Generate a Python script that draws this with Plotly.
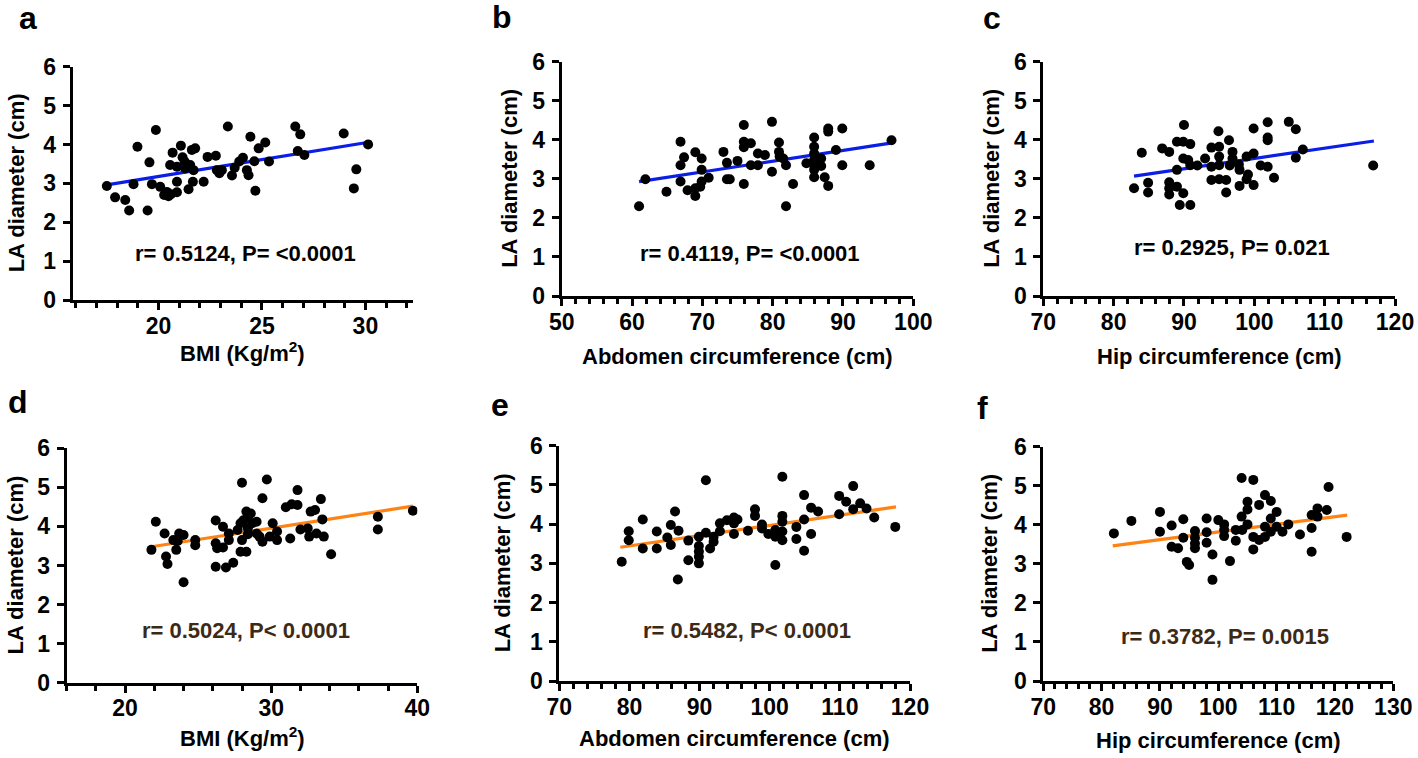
import plotly.graph_objects as go

W, H = 1418, 758

# ---------------- data ----------------
# a: BMI vs LA diameter (blue group)
a_x = [17.50, 17.90, 18.39, 18.58, 18.79, 18.98, 19.47, 19.56, 19.68, 19.87, 20.08, 20.27, 20.40, 20.48,
       20.60, 20.89, 20.89, 20.68, 21.08, 20.56, 20.89, 21.16, 21.26, 21.29, 21.53, 21.61, 21.77, 21.69,
       21.66, 21.45, 22.18, 22.37, 22.77, 22.82, 22.94, 23.06, 23.35, 23.55, 23.68, 23.90, 24.08, 24.27,
       24.35, 24.44, 24.63, 24.68, 24.84, 25.16, 25.34, 26.61, 26.85, 26.73, 27.05, 28.95, 29.56, 29.44, 30.13]
a_y = [2.93, 2.64, 2.57, 2.30, 2.98, 3.94, 2.30, 3.54, 2.98, 4.37, 2.91, 2.70, 2.78, 2.67,
       2.72, 2.77, 3.04, 3.79, 3.97, 3.47, 3.43, 3.67, 3.56, 3.38, 3.47, 3.86, 3.90, 3.34,
       3.04, 2.85, 3.04, 3.68, 3.71, 3.34, 3.26, 3.34, 4.46, 3.20, 3.40, 3.56, 3.66, 3.34,
       3.21, 4.20, 3.57, 2.81, 3.90, 4.05, 3.56, 4.46, 4.26, 3.83, 3.73, 4.28, 3.36, 2.87, 4.00]
a_fit_x = [17.5, 30.3]
a_fit_y = [2.96, 4.07]
a_stat = "r= 0.5124, P= <0.0001"

# b: Abdomen circumference vs LA diameter (blue group)
b_x = [61.0, 61.9, 64.9, 66.9, 67.4, 66.9, 66.9, 67.9, 69.0, 69.9, 69.9, 69.0, 69.0, 69.7, 69.9, 70.9,
       73.0, 73.5, 73.5, 73.9, 75.0, 75.9, 75.9, 75.9, 76.9, 75.9, 76.9, 77.9, 77.9, 78.9, 79.9, 79.9,
       80.9, 80.9, 81.0, 81.5, 81.9, 81.9, 82.9, 84.8, 85.9, 85.9, 85.9, 85.9, 85.9, 85.9, 85.9, 86.9,
       86.9, 87.4, 87.9, 87.9, 87.9, 89.0, 89.9, 89.9, 93.8, 96.9]
b_y = [2.30, 2.99, 2.67, 3.95, 3.55, 3.35, 2.93, 2.71, 3.68, 3.52, 3.23, 2.76, 2.56, 2.80, 2.93, 3.03,
       3.69, 3.41, 2.99, 2.99, 3.46, 4.38, 3.95, 3.81, 3.91, 2.87, 3.35, 3.65, 3.35, 3.61, 4.46, 3.18,
       3.93, 3.69, 3.57, 3.52, 3.35, 2.30, 2.87, 3.40, 4.06, 3.82, 3.65, 3.48, 3.35, 3.23, 3.04, 3.52,
       3.33, 3.04, 2.82, 4.29, 4.21, 3.74, 4.29, 3.35, 3.35, 3.99]
b_fit_x = [61.0, 97.0]
b_fit_y = [2.93, 3.92]
b_stat = "r= 0.4119, P= <0.0001"

# c: Hip circumference vs LA diameter (blue group)
c_x = [82.9, 84.0, 84.9, 84.9, 86.9, 87.9, 87.9, 87.9, 87.9, 89.0, 89.0, 89.0, 90.0, 89.9, 89.9, 89.9,
       89.4, 90.9, 90.9, 90.6, 90.9, 91.9, 93.0, 93.9, 93.9, 93.9, 94.9, 95.0, 95.0, 95.0, 95.0, 96.0,
       96.0, 96.4, 96.9, 96.9, 96.5, 97.8, 97.9, 97.9, 98.9, 99.1, 98.9, 99.9, 99.9, 99.9, 100.9, 101.9,
       101.9, 101.9, 101.9, 102.8, 104.9, 105.9, 105.9, 106.9, 116.9]
c_y = [2.76, 3.67, 2.90, 2.65, 3.78, 3.69, 2.91, 2.76, 2.60, 2.80, 3.23, 3.95, 4.38, 3.95, 3.52, 2.63,
       2.33, 2.33, 3.89, 3.48, 3.35, 3.34, 3.52, 3.80, 3.31, 2.97, 4.22, 3.82, 3.57, 3.35, 2.99, 2.97,
       2.65, 3.99, 3.69, 3.52, 3.34, 3.37, 3.23, 2.82, 3.57, 3.11, 2.99, 3.65, 2.84, 4.29, 3.34, 3.31,
       4.45, 4.06, 3.99, 3.03, 4.46, 4.27, 3.54, 3.75, 3.34]
c_fit_x = [82.9, 117.0]
c_fit_y = [3.07, 3.97]
c_stat = "r= 0.2925, P= 0.021"

# d: BMI vs LA diameter (orange group)
d_x = [21.8, 22.1, 22.7, 22.8, 22.9, 23.3, 23.5, 23.6, 23.7, 24.0, 24.0, 24.8, 24.8, 26.2, 26.2, 26.3,
       26.7, 26.2, 26.7, 26.9, 27.1, 27.1, 27.4, 27.7, 27.9, 28.0, 27.9, 28.0, 28.1, 28.3, 28.4, 28.4,
       28.3, 28.6, 28.4, 28.7, 29.0, 29.0, 29.2, 29.4, 29.4, 29.7, 30.1, 29.9, 30.4, 30.4, 31.0, 31.3,
       31.4, 31.8, 31.8, 32.0, 32.5, 32.6, 32.7, 33.0, 33.1, 33.4, 33.5, 33.6, 34.1, 37.3, 37.3, 39.7]
d_y = [3.40, 4.12, 3.82, 3.23, 3.04, 3.65, 3.40, 3.63, 3.82, 3.78, 2.57, 3.65, 3.52, 4.15, 3.57, 3.44,
       3.46, 2.97, 3.99, 2.95, 3.82, 3.65, 3.07, 3.91, 3.35, 5.12, 4.08, 3.65, 4.16, 4.38, 4.25, 3.95,
       3.35, 4.33, 3.80, 4.08, 4.12, 3.82, 3.74, 4.72, 3.61, 5.20, 4.08, 3.74, 3.87, 3.65, 4.49, 3.69,
       4.57, 4.93, 4.55, 3.92, 3.95, 3.74, 4.38, 4.42, 3.82, 4.70, 4.18, 3.74, 3.29, 4.25, 3.92, 4.40]
d_fit_x = [21.8, 39.7]
d_fit_y = [3.48, 4.52]
d_stat = "r= 0.5024, P< 0.0001"

# e: Abdomen circumference vs LA diameter (orange group)
e_x = [78.9, 79.9, 79.9, 81.9, 81.9, 83.9, 83.9, 85.4, 85.9, 85.9, 86.5, 87.0, 86.9, 88.4, 88.4, 89.9,
       89.9, 89.9, 89.9, 89.9, 90.9, 90.9, 91.5, 92.0, 92.0, 92.9, 92.9, 93.9, 94.9, 94.9, 94.9, 95.4,
       96.9, 97.9, 97.9, 98.9, 98.9, 99.8, 100.8, 100.8, 100.8, 101.8, 101.8, 101.8, 101.8, 101.8,
       103.8, 103.8, 104.9, 104.9, 104.9, 105.9, 105.9, 106.9, 109.9, 109.9, 110.9, 111.9, 111.9,
       112.9, 113.8, 114.9, 117.9]
e_y = [3.04, 3.82, 3.59, 4.12, 3.38, 3.81, 3.38, 3.66, 3.98, 3.47, 4.32, 3.83, 2.59, 3.58, 3.08, 3.68,
       3.44, 3.30, 3.17, 3.00, 5.12, 3.78, 3.38, 3.68, 3.55, 4.02, 3.82, 4.10, 4.17, 4.02, 3.75, 4.12,
       3.83, 4.38, 4.21, 3.99, 3.89, 3.75, 3.85, 3.68, 2.96, 5.21, 4.21, 4.06, 3.81, 3.59,
       3.93, 3.62, 4.74, 4.12, 3.32, 4.42, 3.75, 4.32, 4.72, 4.25, 4.57, 4.97, 4.38,
       4.53, 4.40, 4.17, 3.93]
e_fit_x = [78.7, 118.0]
e_fit_y = [3.41, 4.44]
e_stat = "r= 0.5482, P< 0.0001"

# f: Hip circumference vs LA diameter (orange group)
f_x = [82.1, 85.1, 90.0, 90.0, 92.0, 92.0, 93.1, 94.0, 94.0, 94.6, 95.0, 96.0, 96.0, 96.0, 96.0, 98.0,
       98.0, 98.0, 99.0, 99.0, 100.0, 101.0, 101.0, 101.0, 102.0, 103.0, 103.0, 104.0, 104.0, 104.1,
       105.0, 105.0, 105.0, 106.0, 106.0, 106.0, 107.0, 107.0, 108.0, 108.0, 108.0, 109.0, 109.0, 109.0,
       110.0, 110.0, 111.0, 112.0, 114.0, 116.0, 116.0, 116.0, 117.0, 117.0, 118.6, 118.9, 122.0]
f_y = [3.78, 4.10, 4.33, 3.82, 3.98, 3.44, 3.40, 4.14, 3.67, 3.05, 2.97, 3.84, 3.67, 3.52, 3.40, 4.16,
       3.81, 3.54, 3.24, 2.59, 4.12, 4.01, 3.87, 3.71, 3.07, 3.87, 3.59, 5.20, 4.21, 3.87,
       4.59, 4.39, 4.01, 5.15, 3.69, 3.37, 4.51, 3.61, 4.76, 3.95, 3.69, 4.61, 4.16, 3.82,
       4.33, 3.95, 3.82, 4.01, 3.75, 4.25, 3.92, 3.31, 4.42, 4.21, 4.38, 4.97, 3.69]
f_fit_x = [81.9, 122.1]
f_fit_y = [3.46, 4.25]
f_stat = "r= 0.3782, P= 0.0015"

y_ticks = [0, 1, 2, 3, 4, 5, 6]
y_title = "LA diameter (cm)"
x_titles = ["BMI (Kg/m<sup>2</sup>)", "Abdomen circumference (cm)", "Hip circumference (cm)",
            "BMI (Kg/m<sup>2</sup>)", "Abdomen circumference (cm)", "Hip circumference (cm)"]
letters = ["a", "b", "c", "d", "e", "f"]

BLUE = "#0a1ee6"
ORANGE = "#ff8214"
BROWN = "#3d2a16"
FONT = "Liberation Sans, Arial, sans-serif"

# ---------------- layout (pixel geometry of each panel) ----------------
panels = [
    dict(x=a_x, y=a_y, fx=a_fit_x, fy=a_fit_y, stat=a_stat, xr=[15.85, 32.3], xt=[20, 25, 30], md=1,
         box=(72.7, 413, 66.7, 300), sp=(24.2, 1.2), tdy=52, ytx=16, let=(28, 18), lc=BLUE, sc="black"),
    dict(x=b_x, y=b_y, fx=b_fit_x, fy=b_fit_y, stat=b_stat, xr=[50, 100], xt=[50, 60, 70, 80, 90, 100], md=2,
         box=(561.7, 913.3, 61.7, 296), sp=(76.8, 1.09), tdy=61, ytx=510, let=(502, 17), lc=BLUE, sc="black"),
    dict(x=c_x, y=c_y, fx=c_fit_x, fy=c_fit_y, stat=c_stat, xr=[70, 120], xt=[70, 80, 90, 100, 110, 120], md=2,
         box=(1043.3, 1395, 61.7, 296), sp=(96.8, 1.25), tdy=61, ytx=992, let=(992, 18), lc=BLUE, sc="black"),
    dict(x=d_x, y=d_y, fx=d_fit_x, fy=d_fit_y, stat=d_stat, xr=[16, 40], xt=[20, 30, 40], md=2,
         box=(66.7, 417.3, 448.3, 682.7), sp=(28.25, 1.33), tdy=54, ytx=15, let=(18, 402), lc=ORANGE, sc=BROWN),
    dict(x=e_x, y=e_y, fx=e_fit_x, fy=e_fit_y, stat=e_stat, xr=[70, 120], xt=[70, 80, 90, 100, 110, 120], md=2,
         box=(559.3, 910, 445.7, 681), sp=(96.7, 1.28), tdy=57, ytx=502, let=(500, 405), lc=ORANGE, sc=BROWN),
    dict(x=f_x, y=f_y, fx=f_fit_x, fy=f_fit_y, stat=f_stat, xr=[70, 130], xt=[70, 80, 90, 100, 110, 120, 130], md=2,
         box=(1043.3, 1393.3, 446.7, 681), sp=(101.1, 1.13), tdy=59, ytx=990, let=(982, 408), lc=ORANGE, sc=BROWN),
]

fig = go.Figure()
annotations = []
layout = {}
for i, p in enumerate(panels):
    k = "" if i == 0 else str(i + 1)
    xa, ya = "x" + k, "y" + k
    x0, x1, yt, yb = p["box"]
    fig.add_trace(go.Scatter(x=p["fx"], y=p["fy"], mode="lines", xaxis=xa, yaxis=ya,
                             line=dict(color=p["lc"], width=3.2), showlegend=False, hoverinfo="skip"))
    fig.add_trace(go.Scatter(x=p["x"], y=p["y"], mode="markers", xaxis=xa, yaxis=ya,
                             marker=dict(color="black", size=10, line=dict(width=0)), showlegend=False))
    tickfont = dict(family=FONT, size=23, color="black", weight="bold")
    layout["xaxis" + k] = dict(
        domain=[x0 / W, x1 / W], anchor=ya, range=p["xr"], tickvals=p["xt"], automargin=False,
        showline=True, linecolor="black", linewidth=3, ticks="outside", ticklen=7, tickwidth=3,
        tickcolor="black", showgrid=False, zeroline=False, tickfont=tickfont, ticklabelstandoff=-4,
        minor=dict(dtick=p["md"], tick0=0, ticks="outside", ticklen=5, tickwidth=3, tickcolor="black", showgrid=False),
        fixedrange=True)
    layout["yaxis" + k] = dict(
        domain=[1 - yb / H, 1 - yt / H], anchor=xa, range=[0, 6], tickvals=y_ticks, automargin=False,
        showline=True, linecolor="black", linewidth=3, ticks="outside", ticklen=7, tickwidth=3,
        tickcolor="black", showgrid=False, zeroline=False, tickfont=tickfont, ticklabelstandoff=2,
        fixedrange=True)
    annotations.append(dict(x=p["sp"][0], y=p["sp"][1], xref=xa, yref=ya, text=p["stat"], showarrow=False,
                            font=dict(family=FONT, size=22, color=p["sc"], weight="bold"),
                            xanchor="center", yanchor="middle"))
    annotations.append(dict(x=(x0 + x1) / 2 / W, y=1 - (yb + p["tdy"]) / H,
                            xref="paper", yref="paper", text=x_titles[i], showarrow=False,
                            font=dict(family=FONT, size=22, color="black", weight="bold"),
                            xanchor="center", yanchor="middle"))
    annotations.append(dict(x=p["ytx"] / W, y=1 - (yt + yb) / 2 / H, xref="paper", yref="paper",
                            text=y_title, textangle=-90, showarrow=False,
                            font=dict(family=FONT, size=22, color="black", weight="bold"),
                            xanchor="center", yanchor="middle"))
    annotations.append(dict(x=p["let"][0] / W, y=1 - p["let"][1] / H, xref="paper", yref="paper",
                            text=letters[i], showarrow=False,
                            font=dict(family=FONT, size=32, color="black", weight="bold"),
                            xanchor="center", yanchor="middle"))

fig.update_layout(template="none", width=W, height=H, margin=dict(l=0, r=0, t=0, b=0, autoexpand=False),
                  paper_bgcolor="white", plot_bgcolor="white", annotations=annotations, **layout)
fig.write_html("out.html", config={"displayModeBar": False},
               post_script="document.body.style.margin='0';document.body.style.overflow='hidden';")
